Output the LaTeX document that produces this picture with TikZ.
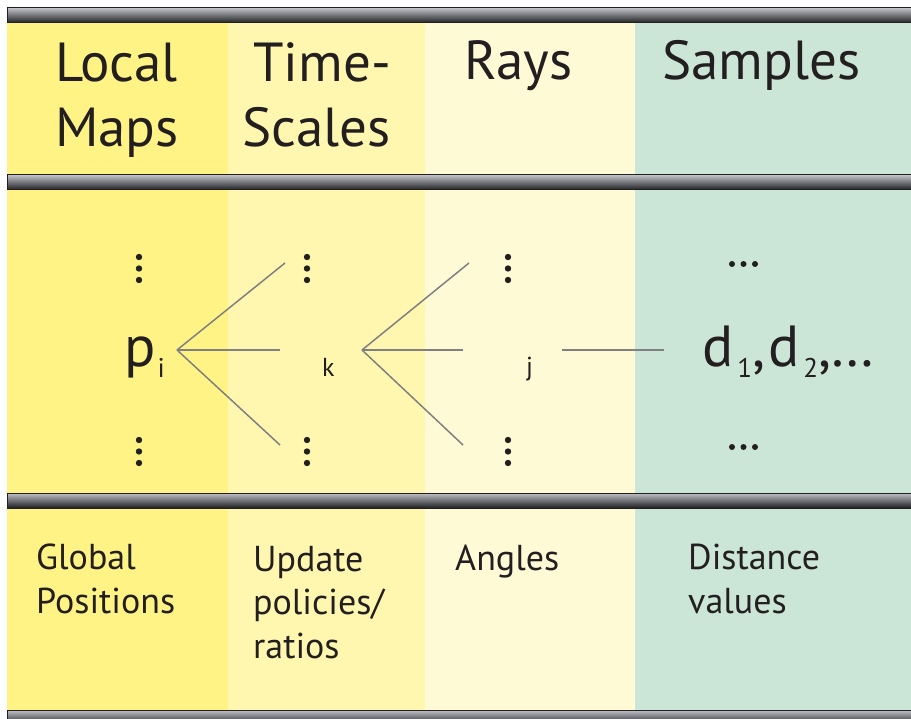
\documentclass[tikz,border=0pt]{standalone}
\usepackage{fontspec}
\setmainfont{PT Sans}
\usetikzlibrary{positioning}

\definecolor{ink}{RGB}{35,31,32}
\definecolor{mapcol}{RGB}{255,243,133}
\definecolor{timecol}{RGB}{255,247,176}
\definecolor{raycol}{RGB}{255,250,214}
\definecolor{samplecol}{RGB}{203,230,214}
\definecolor{railtop}{RGB}{192,194,200}
\definecolor{railbot}{RGB}{28,30,32}

\newcommand{\lowsub}[1]{\raisebox{-10pt}{\fontsize{27}{30}\selectfont #1}}

\begin{document}
\begin{tikzpicture}[
    x=1pt, y=-1pt,
    every node/.style={inner sep=0pt, text=ink, anchor=base west},
    head/.style={font=\fontsize{55}{65}\selectfont, align=left},
    note/.style={font=\fontsize{36}{43.5}\selectfont, align=left},
    sym/.style={font=\fontsize{58}{60}\selectfont},
    idx/.style={font=\fontsize{26}{28}\selectfont},
    rail/.style={draw=ink, line width=1pt, top color=railtop, bottom color=railbot},
    link/.style={draw=black!50, line width=1.5pt},
    dot/.style={fill=ink}
]
    \useasboundingbox (0,0) rectangle (911,719);

    % columns
    \fill[mapcol] (7,8) rectangle (228,715);
    \fill[timecol] (228,8) rectangle (425,715);
    \fill[raycol] (425,8) rectangle (635,715);
    \fill[samplecol] (635,8) rectangle (915,715);

    % metal rails
    \foreach \y in {8,175,493,710}
        \draw[rail] (7,\y) rectangle (915,\y+15);

    % headings (base = last line)
    \node[head] (maps) at (55,147) {Local\\Maps};
    \node[head, anchor=base east, align=right] (scales) at (391,147) {Time-\\Scales};
    \node[head] (rays) at (464,80) {Rays};
    \node[head] (samples) at (662,80) {Samples};

    % middle row
    \node[sym] (p) at (124,367) {p\hspace{2pt}\lowsub{i}};
    \node[idx] (k) at (322,377) {k};
    \node[idx] (j) at (526,376) {j};
    \node[sym] (d) at (702,367) {d\hspace{4pt}\lowsub{1},\hspace{3pt}d\hspace{4pt}\lowsub{2},\hspace{-1pt}…};

    \coordinate (pfan) at (177,350);
    \coordinate (kfan) at (362,350);
    \coordinate (jout) at (562,350);
    \coordinate (din) at (664,350);

    \draw[link] (pfan) -- (285,263);
    \draw[link] (pfan) -- (280,350);
    \draw[link] (pfan) -- (280,445);
    \draw[link] (kfan) -- (469,263);
    \draw[link] (kfan) -- (463,350);
    \draw[link] (kfan) -- (463,445);
    \draw[link] (jout) -- (din);

    \foreach \x in {139,307,508}
        \foreach \y in {257,268.5,280,440,451.5,463}
            \fill[dot] (\x,\y) circle (3.2pt);
    \foreach \x in {732,743.5,755}
        \foreach \y in {264,447}
            \fill[dot] (\x,\y) circle (3pt);

    % descriptions (base = last line)
    \node[note] (global) at (36,613) {Global\\Positions};
    \node[note] (update) at (253,658) {Update\\policies/\\ratios};
    \node[note] (angles) at (455,570) {Angles};
    \node[note] (distance) at (688,613) {Distance\\values};

\end{tikzpicture}
\end{document}
